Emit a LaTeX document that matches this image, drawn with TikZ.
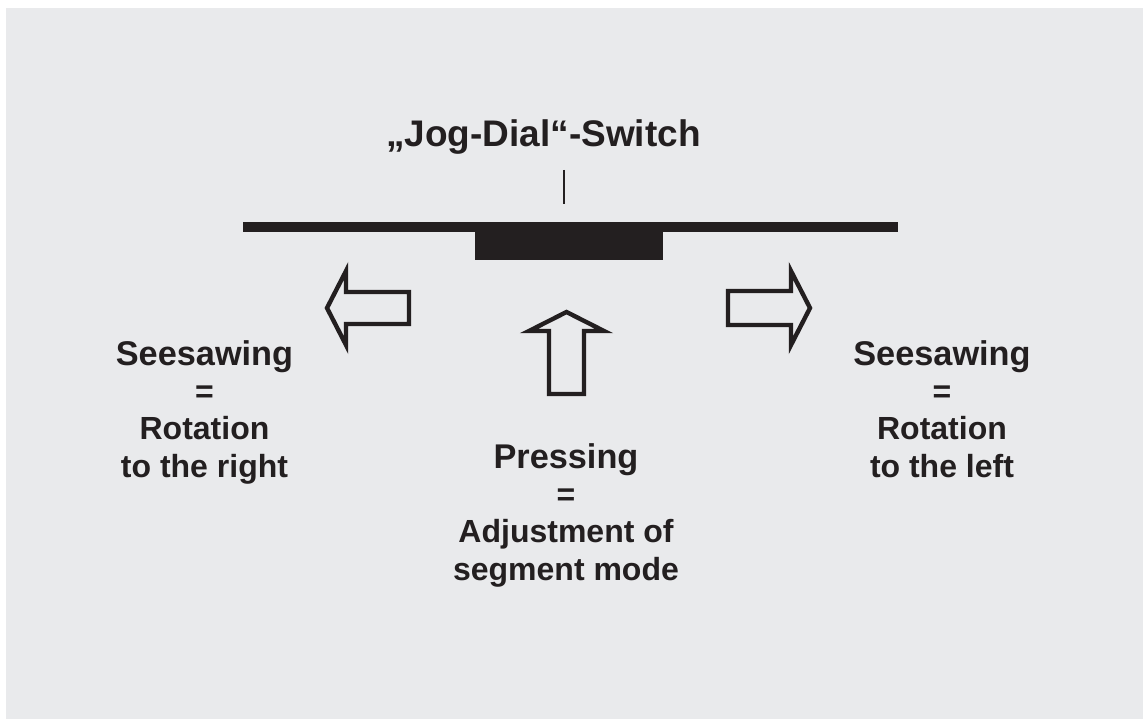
\documentclass[tikz,border=0pt]{standalone}
\usepackage{fontspec}
\setmainfont{Liberation Sans}
\definecolor{bg}{HTML}{E9EAEC}
\definecolor{ink}{HTML}{231F20}
\newcommand{\headword}[1]{{\fontsize{34.3}{37.2}\selectfont #1}}
\begin{document}
\begin{tikzpicture}[x=1pt,y=-1pt,
  lbl/.style={text=ink,inner sep=0pt,align=center,anchor=base,font=\bfseries\fontsize{32}{37.2}\selectfont},
  hollow/.style={draw=ink,line width=4.4pt,line join=miter,miter limit=10,fill=bg}]
\useasboundingbox (0,0) rectangle (1143,719);
\fill[white] (0,0) rectangle (1143,719);
\fill[bg] (6,8) rectangle (1143,719);
% title
\node[lbl,font=\bfseries\fontsize{37}{44}\selectfont] (title) at (543.5,147) {„Jog-Dial“-Switch};
\coordinate (tickTop) at (564,170);
\coordinate (tickBot) at (564,204);
\draw[ink,line width=1.3pt] (tickTop) -- (tickBot);
% switch bar and block
\fill[ink] (243,222) rectangle (898,232);
\fill[ink] (475,231) rectangle (663,260);
% arrows
\draw[hollow] (327,308) -- (346,271) -- (346,292) -- (409,292) -- (409,324) -- (346,324) -- (346,345) -- cycle;
\draw[hollow] (810,308) -- (791,271) -- (791,291) -- (728,291) -- (728,325) -- (791,325) -- (791,345) -- cycle;
\draw[hollow] (566.5,312) -- (604,331) -- (584,331) -- (584,394) -- (549,394) -- (549,331) -- (529,331) -- cycle;
% labels (base anchor = baseline of the last line)
\node[lbl] (lefttxt) at (204.5,477) {\headword{Seesawing}\\=\\Rotation\\to the right};
\node[lbl] (righttxt) at (942,477) {\headword{Seesawing}\\=\\Rotation\\to the left};
\node[lbl] (presstxt) at (566,580) {\headword{Pressing}\\=\\Adjustment of\\segment mode};
\end{tikzpicture}
\end{document}
